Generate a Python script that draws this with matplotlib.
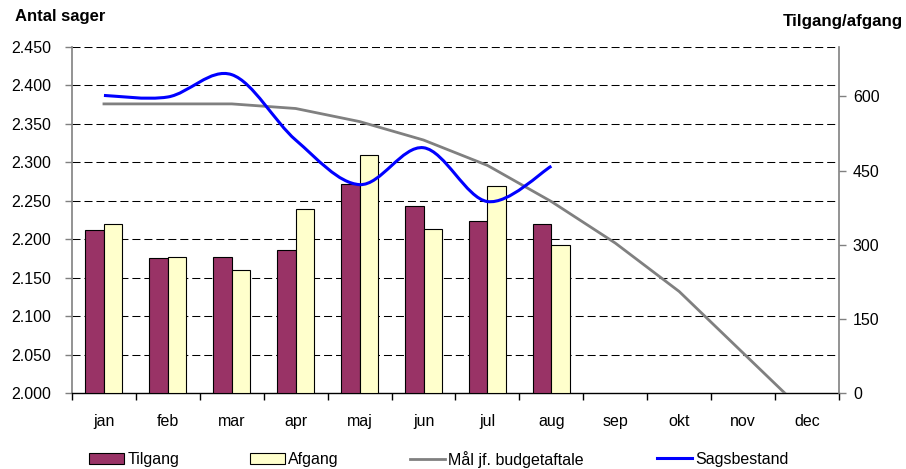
import matplotlib
matplotlib.use("Agg")
import matplotlib.pyplot as plt
from matplotlib.path import Path
from matplotlib.patches import PathPatch, Patch
from matplotlib.lines import Line2D
import numpy as np

plt.rcParams['font.family'] = ['Liberation Sans', 'DejaVu Sans']

months = ["jan", "feb", "mar", "apr", "maj", "jun", "jul", "aug", "sep", "okt", "nov", "dec"]
tilgang = [329, 273, 276, 290, 422, 379, 348, 342]
afgang = [342, 276, 249, 373, 482, 331, 418, 299]
maal = [2376, 2376, 2376, 2370, 2353, 2329, 2296, 2249, 2195, 2132, 2052, 1972]
sagsbestand = [2387, 2385, 2414, 2329, 2271, 2319, 2249, 2295]
left_ticks = [2000, 2050, 2100, 2150, 2200, 2250, 2300, 2350, 2400, 2450]
left_labels = ["2.000", "2.050", "2.100", "2.150", "2.200", "2.250", "2.300", "2.350", "2.400", "2.450"]
right_ticks = [0, 150, 300, 450, 600]

W, H = 906, 469
fig = plt.figure(figsize=(W / 100, H / 100), dpi=100)
rect = [72 / W, (H - 393) / H, 767 / W, 346 / H]

axG = fig.add_axes(rect)
axB = axG.twinx()
axL = axG.twinx()

x = np.arange(len(months))
for a in (axG, axB, axL):
    a.set_xlim(-0.5, 11.5)
axG.set_ylim(2000, 2450)
axL.set_ylim(2000, 2450)
axB.set_ylim(0, 700)

# grid on base axes
for v in left_ticks[1:]:
    axG.axhline(v, color='black', lw=0.75, ls=(0, (7.7, 3.8)), zorder=0)

# bars
bw = 0.29
xb = np.arange(len(tilgang))
axB.bar(xb - bw / 2, tilgang, bw, color='#993366', edgecolor='black', linewidth=0.8, zorder=2)
axB.bar(xb + bw / 2, afgang, bw, color='#FFFFCC', edgecolor='black', linewidth=0.8, zorder=2)
axB.patch.set_visible(False)

# lines
axL.patch.set_visible(False)
axL.plot(x, maal, color='#808080', lw=2.0, solid_joinstyle='round', zorder=3)


def smooth_path(xs, ys):
    pts = np.column_stack([xs, ys]).astype(float)
    n = len(pts)
    verts = [pts[0]]
    codes = [Path.MOVETO]
    for i in range(n - 1):
        p0 = pts[i - 1] if i > 0 else pts[i]
        p1 = pts[i]
        p2 = pts[i + 1]
        p3 = pts[i + 2] if i + 2 < n else pts[i + 1]
        c1 = p1 + (p2 - p0) / 6.0
        c2 = p2 - (p3 - p1) / 6.0
        verts += [c1, c2, p2]
        codes += [Path.CURVE4] * 3
    return Path(verts, codes)


sp = smooth_path(np.arange(len(sagsbestand)), sagsbestand)
axL.add_patch(PathPatch(sp, facecolor='none', edgecolor='#0000FF', lw=2.2, zorder=4))

# axes styling
axG.set_yticks(left_ticks)
axG.set_yticklabels(left_labels)
axG.tick_params(axis='y', direction='out', length=5, width=1, color='#808080', pad=10, labelsize=11.5)
axB.set_yticks(right_ticks)
axB.set_yticklabels([str(v) for v in right_ticks])
axB.tick_params(axis='y', direction='out', length=5, width=1, color='#808080', pad=5, labelsize=11.5)
axL.set_yticks([])

axG.set_xticks(x)
axG.set_xticklabels(months)
axG.set_xticks(np.arange(-0.5, 12, 1), minor=True)
axG.tick_params(axis='x', which='major', length=0, pad=15, labelsize=11.5)
axG.tick_params(axis='x', which='minor', length=5, width=1, color='black', direction='out')
for a in (axB, axL):
    a.tick_params(axis='x', which='both', length=0, labelbottom=False)

for a in (axG, axB, axL):
    for s in a.spines.values():
        s.set_visible(False)
axG.spines['left'].set_visible(True)
axG.spines['left'].set_color('#808080')
axG.spines['left'].set_linewidth(1.2)
axB.spines['right'].set_visible(True)
axB.spines['right'].set_color('#808080')
axB.spines['right'].set_linewidth(1.2)
axG.spines['bottom'].set_visible(True)
axG.spines['bottom'].set_color('black')
axG.spines['bottom'].set_linewidth(1.0)

fig.text(15 / W, 1 - 21 / H, "Antal sager", fontsize=12, fontweight='bold', ha='left', va='baseline')
fig.text(903 / W, 1 - 26 / H, "Tilgang/afgang", fontsize=12.2, fontweight='bold', ha='right', va='baseline')

# legend
fs = 11.5
entries = [
    (89, Patch(facecolor='#993366', edgecolor='black', linewidth=0.8), "Tilgang"),
    (250, Patch(facecolor='#FFFFCC', edgecolor='black', linewidth=0.8), "Afgang"),
    (410, Line2D([], [], color='#808080', lw=2.0), "Mål jf. budgetaftale"),
    (657, Line2D([], [], color='#0000FF', lw=2.2), "Sagsbestand"),
]
for xp, h, lab in entries:
    fig.legend([h], [lab], loc='center left', bbox_to_anchor=(xp / W, 1 - 459.5 / H),
               frameon=False, fontsize=fs, borderpad=0, borderaxespad=0,
               handlelength=2.2, handleheight=0.7, handletextpad=0.2)

fig.savefig("out.png", dpi=100)
